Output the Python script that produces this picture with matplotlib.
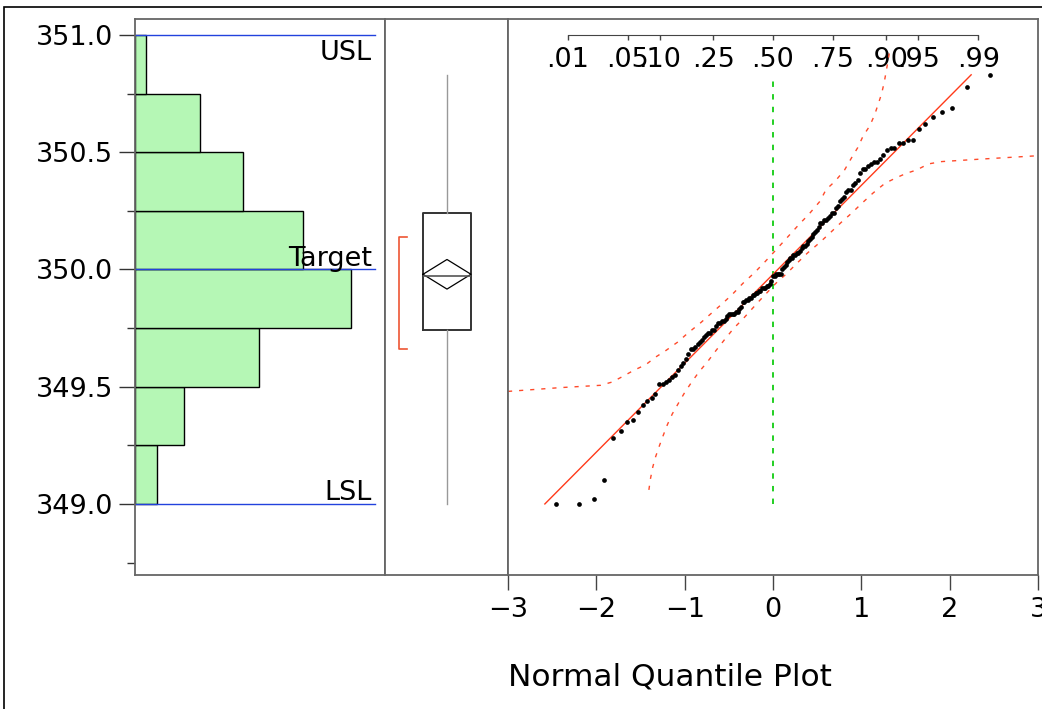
import numpy as np
import matplotlib
matplotlib.use('Agg')
import matplotlib.pyplot as plt
from matplotlib.patches import Rectangle
from statistics import NormalDist

values = np.array([
    349.00, 349.00, 349.02, 349.10,
    349.28, 349.31, 349.35, 349.36, 349.39, 349.42, 349.44, 349.45, 349.47,
    349.51, 349.51, 349.52, 349.53, 349.54, 349.55, 349.57, 349.59, 349.60, 349.62,
    349.64, 349.66, 349.66, 349.67, 349.68, 349.69, 349.70, 349.71, 349.72, 349.73,
    349.73, 349.74, 349.74,
    349.76, 349.77, 349.77, 349.78, 349.78, 349.79, 349.80, 349.81, 349.81, 349.81,
    349.81, 349.82, 349.82, 349.83, 349.84, 349.86, 349.86, 349.87, 349.87, 349.88,
    349.88, 349.89, 349.89, 349.90, 349.90, 349.91, 349.91, 349.92, 349.92, 349.92,
    349.93, 349.93, 349.94, 349.95, 349.97, 349.97, 349.98, 349.98, 349.98, 349.98,
    350.00, 350.01, 350.02, 350.03, 350.04, 350.05, 350.05, 350.06, 350.06, 350.07,
    350.07, 350.08, 350.09, 350.10, 350.10, 350.11, 350.12, 350.13, 350.14, 350.15,
    350.16, 350.17, 350.18, 350.20, 350.20, 350.21, 350.21, 350.22, 350.23, 350.24,
    350.24,
    350.26, 350.27, 350.29, 350.30, 350.31, 350.33, 350.34, 350.34, 350.36, 350.37,
    350.38, 350.41, 350.43, 350.43, 350.44, 350.45, 350.46, 350.46, 350.47, 350.49,
    350.51, 350.52, 350.52, 350.54, 350.54, 350.55, 350.55, 350.60, 350.62, 350.65,
    350.67, 350.69, 350.78, 350.83,
])

hist_edges = [349.0, 349.25, 349.5, 349.75, 350.0, 350.25, 350.5, 350.75, 351.0]
spec_names = ['USL', 'Target', 'LSL']
spec_values = [351.0, 350.0, 349.0]
y_major = [349.0, 349.5, 350.0, 350.5, 351.0]
y_minor = [348.75, 349.25, 349.75, 350.25, 350.75]
q_ticks = [-3, -2, -1, 0, 1, 2, 3]
prob_ticks = [0.01, 0.05, 0.10, 0.25, 0.50, 0.75, 0.90, 0.95, 0.99]
prob_labels = ['.01', '.05', '.10', '.25', '.50', '.75', '.90', '.95', '.99']

# confidence bounds
band_up_z = [-3.0, -2.41, -1.95, -1.82, -1.69, -1.575, -1.44, -1.33, -1.21, -1.08,
             -0.96, -0.83, -0.71, -0.58, -0.46, -0.34, -0.21, -0.09, 0.05, 0.17,
             0.29, 0.41, 0.53, 0.60, 0.705, 0.81, 0.886, 0.96, 1.02, 1.095,
             1.15, 1.19, 1.23, 1.26, 1.284, 1.32]
band_up_y = [349.48, 349.496, 349.506, 349.52, 349.546, 349.57, 349.594, 349.626, 349.655, 349.69,
             349.73, 349.769, 349.809, 349.852, 349.894, 349.941, 349.986, 350.033, 350.09, 350.14,
             350.19, 350.237, 350.29, 350.34, 350.377, 350.424, 350.474, 350.52, 350.569, 350.612,
             350.659, 350.704, 350.75, 350.80, 350.85, 350.929]
band_lo_z = [-1.405, -1.386, -1.36, -1.33, -1.29, -1.245, -1.197, -1.14, -1.07, -1.0,
             -0.92, -0.84, -0.74, -0.65, -0.55, -0.445, -0.34, -0.17, 0.03, 0.148,
             0.27, 0.39, 0.53, 0.65, 0.77, 0.89, 1.0, 1.13, 1.27, 1.39,
             1.51, 1.625, 1.76, 1.91, 2.33, 3.0]
band_lo_y = [349.06, 349.11, 349.159, 349.20, 349.244, 349.29, 349.337, 349.384, 349.43, 349.475,
             349.52, 349.562, 349.607, 349.652, 349.70, 349.749, 349.789, 349.86, 349.94, 349.98,
             350.026, 350.07, 350.115, 350.157, 350.20, 350.24, 350.28, 350.325, 350.368, 350.39,
             350.41, 350.424, 350.45, 350.46, 350.47, 350.485]

plt.rcParams['font.family'] = 'DejaVu Sans'
FS = 19.5
W, H = 1042.0, 709.0
SP = '#666666'
ylims = (348.697, 351.068)

fig = plt.figure(figsize=(W / 100, H / 100), dpi=100)
fig.add_artist(Rectangle((4 / W, -0.2), 1.5, 1.2 - 7 / H, transform=fig.transFigure,
                         fill=False, ec='black', lw=1.2))

bot = 1 - 575 / H
hgt = 556 / H
ax_h = fig.add_axes([135 / W, bot, 250 / W, hgt])
ax_b = fig.add_axes([385 / W, bot, 123 / W, hgt])
ax_q = fig.add_axes([508 / W, bot, 530 / W, hgt])

for ax in (ax_h, ax_b, ax_q):
    ax.set_ylim(*ylims)
    for s in ax.spines.values():
        s.set_color(SP)
        s.set_linewidth(1.3)

# histogram
ax_h.hist(values, bins=hist_edges, orientation='horizontal', color='#b5f7b5',
          edgecolor='black', linewidth=1)
ax_h.set_xlim(0, 46.2)
ax_h.set_xticks([])
ax_h.set_yticks(y_major)
ax_h.set_yticks(y_minor, minor=True)
ax_h.set_yticklabels(['%.1f' % v for v in y_major], fontsize=FS)
ax_h.tick_params(axis='y', which='major', length=11.5, width=1, color='#333333', pad=4)
ax_h.tick_params(axis='y', which='minor', length=5.8, width=1, color='#333333')
for name, v in zip(spec_names, spec_values):
    ax_h.axhline(v, 0, 0.96, color='#2242dd', lw=1)
    if name == 'USL':
        ax_h.text(0.948, v - 0.02, name, transform=ax_h.get_yaxis_transform(),
                  ha='right', va='top', fontsize=FS)
    else:
        ax_h.text(0.948, v + 0.015, name, transform=ax_h.get_yaxis_transform(),
                  ha='right', va='baseline', fontsize=FS)

# outlier box plot with means diamond and shortest half
n = len(values)
mean = values.mean()
sd = values.std(ddof=1)
ci = 1.977 * sd / np.sqrt(n)
ax_b.boxplot(values, positions=[0.504], widths=0.39, whis=(0, 100), showcaps=False,
             showfliers=False, manage_ticks=False,
             boxprops=dict(color='#333333', lw=1.4),
             whiskerprops=dict(color='#999999', lw=1),
             medianprops=dict(color='#555555', lw=1.2))
ax_b.plot([0.309, 0.504, 0.699, 0.504, 0.309], [mean, mean + ci, mean, mean - ci, mean],
          color='black', lw=0.9)
h = n // 2
i = np.argmin(values[h:] - values[:-h])
lo, hi = values[i], values[i + h]
ax_b.plot([0.179, 0.114, 0.114, 0.179], [lo, lo, hi, hi], color='#ee5533', lw=1.2)
ax_b.set_xlim(0, 1)
ax_b.set_xticks([])
ax_b.set_yticks([])

# normal quantile plot
nd = NormalDist()
z = np.array([nd.inv_cdf(k / (n + 1)) for k in range(1, n + 1)])
ax_q.plot(band_up_z, band_up_y, color='#ff4a2a', ls=(0, (3, 5)), lw=1)
ax_q.plot(band_lo_z, band_lo_y, color='#ff4a2a', ls=(0, (3, 5)), lw=1)
ax_q.plot([0, 0], [values.min(), values.max()], color='#11cc11', ls=(0, (3, 4)), lw=1.3)
yl = np.array([values.min(), values.max()])
ax_q.plot((yl - mean) / sd, yl, color='#ff3a1a', lw=1)
ax_q.plot(z, values, 'o', color='black', ms=3.4, mec='none')
ax_q.set_xlim(-3, 3)
ax_q.set_xticks(q_ticks)
ax_q.set_xticklabels(['%d' % t if t >= 0 else '\u2212%d' % -t for t in q_ticks], fontsize=FS)
ax_q.tick_params(axis='x', length=10.8, width=1, color='#444444', pad=5)
ax_q.set_yticks([])

loc = (351.0 - ylims[0]) / (ylims[1] - ylims[0])
sec = ax_q.secondary_xaxis(loc)
sec.set_alignment('bottom')
zp = [nd.inv_cdf(p) for p in prob_ticks]
sec.set_xticks(zp)
sec.set_xticklabels(prob_labels, fontsize=FS)
sec.tick_params(axis='x', direction='out', length=3.6, width=1, color='#444444', pad=5)
sec.spines['bottom'].set_bounds(zp[0], zp[-1])
sec.spines['bottom'].set_color('#444444')

fig.text(670 / W, 1 - 677 / H, 'Normal Quantile Plot', ha='center', va='center', fontsize=22.5)

fig.savefig('out.png', dpi=100)
